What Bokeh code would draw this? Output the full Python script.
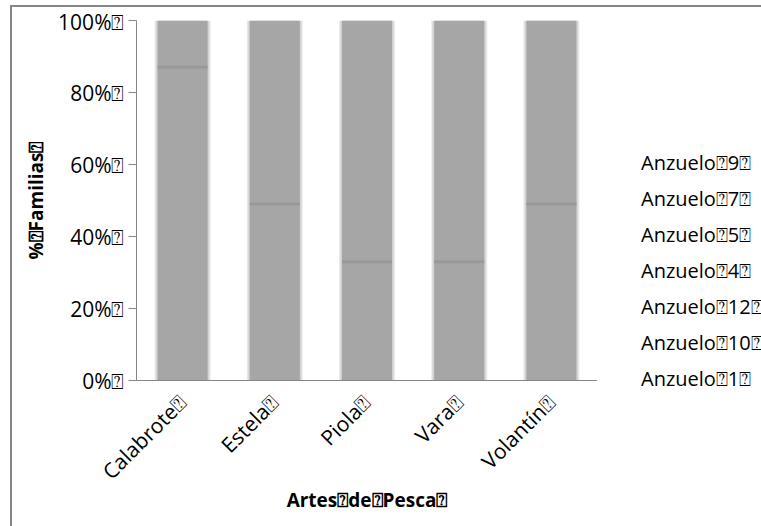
import math

from bokeh.embed import file_html
from bokeh.layouts import row
from bokeh.models import ColumnDataSource, FactorRange, FixedTicker, Legend, LegendItem
from bokeh.plotting import figure
from bokeh.resources import INLINE

# Placeholder glyph shown where the source labels carry unprintable characters
Q = "\u2370"

artes = ["Calabrote", "Estela", "Piola", "Vara", "Volantín"]
anzuelos = ["Anzuelo 1", "Anzuelo 10", "Anzuelo 12", "Anzuelo 4", "Anzuelo 5", "Anzuelo 7", "Anzuelo 9"]

# % de familias por arte de pesca (orden: Calabrote, Estela, Piola, Vara, Volantín)
anzuelo_1 = [0, 0, 33, 0, 0]
anzuelo_10 = [0, 0, 0, 33, 0]
anzuelo_12 = [0, 0, 0, 0, 49]
anzuelo_4 = [87, 0, 0, 0, 0]
anzuelo_5 = [0, 49, 0, 0, 0]
anzuelo_7 = [13, 51, 67, 0, 51]
anzuelo_9 = [0, 0, 0, 67, 0]

y_ticks = [0, 20, 40, 60, 80, 100]
y_tick_labels = ["0%", "20%", "40%", "60%", "80%", "100%"]

x_title = "Artes de Pesca"
y_title = "% Familias"

series = [anzuelo_1, anzuelo_10, anzuelo_12, anzuelo_4, anzuelo_5, anzuelo_7, anzuelo_9]


def shown(text):
    return text.replace(" ", Q) + Q


factors = [shown(a) for a in artes]
keys = [f"s{i}" for i in range(len(anzuelos))]
data = {"arte": factors}
for k, vals in zip(keys, series):
    data[k] = vals
source = ColumnDataSource(data)

FONT = "Open Sans"
GREY = "#a6a6a6"
AXIS = "#868686"

p = figure(
    x_range=FactorRange(*factors),
    y_range=(0, 100),
    width=585,
    height=519,
    output_backend="svg",
    toolbar_location=None,
    min_border_left=124,
    min_border_right=0,
    min_border_top=13,
    min_border_bottom=146,
)
p.outline_line_color = None
p.xgrid.visible = False
p.ygrid.visible = False
p.background_fill_color = "white"
p.border_fill_color = "white"

# soft halo around each column
px_x = 1 / 92.2
px_y = 100 / 360
core_w = 50 * px_x
totals = [sum(s[i] for s in series) for i in range(len(artes))]
for d in (3, 2, 1):
    p.vbar(x=factors, top=[t + (d - 2) * px_y for t in totals], bottom=0,
           width=core_w + 2 * d * px_x, fill_color=GREY, fill_alpha=0.22, line_color=None)

renderers = p.vbar_stack(keys, x="arte", width=core_w, color=GREY, line_color=None, source=source)

# boundaries between stacked segments
bx, by = [], []
for i, f in enumerate(factors):
    acc = 0
    for s in series:
        if s[i] > 0:
            acc += s[i]
            if acc < totals[i]:
                bx.append(f)
                by.append(acc)
p.rect(x=bx, y=by, width=core_w, height=4, height_units="screen", fill_color="#999999", fill_alpha=0.35, line_color=None)
p.rect(x=bx, y=by, width=core_w, height=2, height_units="screen", fill_color="#979797", line_color=None)

ya = p.yaxis[0]
ya.ticker = FixedTicker(ticks=y_ticks)
ya.major_label_overrides = {t: lab + Q for t, lab in zip(y_ticks, y_tick_labels)}
ya.major_tick_out = 8
ya.major_tick_in = 0
ya.minor_tick_out = 0
ya.minor_tick_in = 0
ya.major_label_standoff = 4
ya.axis_line_color = AXIS
ya.major_tick_line_color = AXIS
ya.major_label_text_font = FONT
ya.major_label_text_font_size = "21px"
ya.major_label_text_color = "black"
ya.axis_label = shown(y_title)
ya.axis_label_text_font = FONT
ya.axis_label_text_font_style = "bold"
ya.axis_label_text_font_size = "19px"
ya.axis_label_text_color = "black"
ya.axis_label_standoff = 6

xa = p.xaxis[0]
xa.major_tick_out = 0
xa.major_tick_in = 0
xa.axis_line_color = AXIS
xa.major_label_orientation = math.pi / 4
xa.major_label_text_font = FONT
xa.major_label_text_font_size = "21px"
xa.major_label_text_color = "black"
xa.major_label_standoff = 18
xa.axis_label = shown(x_title)
xa.axis_label_text_font = FONT
xa.axis_label_text_font_style = "bold"
xa.axis_label_text_font_size = "19px"
xa.axis_label_text_color = "black"
xa.axis_label_standoff = -11

# legend panel to the right of the bars
lp = figure(
    x_range=(0, 1),
    y_range=(0, 1),
    width=164,
    height=519,
    output_backend="svg",
    toolbar_location=None,
    x_axis_location=None,
    y_axis_location=None,
    min_border=0,
)
lp.outline_line_color = None
lp.grid.visible = False
lp.background_fill_color = "white"
lp.border_fill_color = "white"
# keep the legend panel's frame at full height (not aligned to the bar plot)
lp.frame_align = False

keys_r = []
for name in anzuelos:
    keys_r.append(lp.rect(x=[], y=[], width=0, height=0, fill_color=GREY, fill_alpha=0, line_alpha=0))

items = [LegendItem(label=shown(name), renderers=[r]) for name, r in zip(anzuelos, keys_r)]
legend = Legend(
    items=list(reversed(items)),
    location=(44, 134),
    glyph_width=0,
    glyph_height=20,
    label_height=20,
    label_standoff=0,
    spacing=9,
    padding=0,
    margin=0,
    border_line_color=None,
    background_fill_alpha=0,
    label_text_font=FONT,
    label_text_font_size="20px",
    label_text_color="black",
)
lp.add_layout(legend)

chart = row(p, lp)
# chart area border (left and top edges fall inside the page)
chart.margin = (5, 0, 0, 10)
chart.styles = {"border-left": f"2px solid {AXIS}", "border-top": f"2px solid {AXIS}"}

open("out.html", "w").write(file_html(chart, INLINE))
